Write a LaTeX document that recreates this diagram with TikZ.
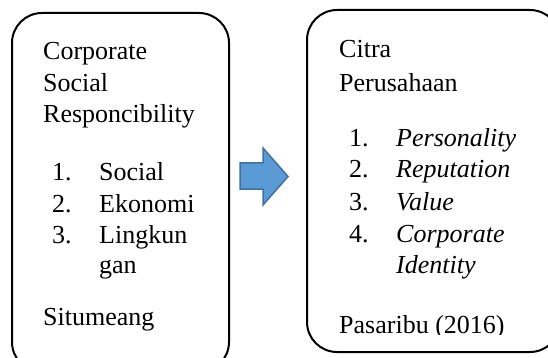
\documentclass[tikz,border=0pt]{standalone}
\usepackage{fontspec}
\setmainfont{Liberation Serif}
\begin{document}
\begin{tikzpicture}[x=1pt,y=-1pt,
  box/.style={draw=black,line width=2pt,rounded corners=30pt},
  txt/.style={anchor=base west,inner sep=0pt,font=\fontsize{26}{31}\selectfont},
  itm/.style={txt,font=\fontsize{26}{31}\selectfont\itshape},
  blockarrow/.style={fill=arrowfill,draw=arrowline,line width=1.5pt,line join=miter}]
\definecolor{arrowfill}{HTML}{5B9BD5}
\definecolor{arrowline}{HTML}{41719C}
\useasboundingbox (0,0) rectangle (548,358);
\begin{scope}
\clip (0,0) rectangle (548,358);
\draw[box] (12,13) rectangle (229,372);
\draw[box] (307,10) rectangle (560,352);
\end{scope}
% left box text
\node[txt] (l1) at (43,60) {Corporate};
\node[txt] (l2) at (43,92) {Social};
\node[txt] (l3) at (43,123) {Responcibility};
\node[txt] (n1) at (52,180) {1.};
\node[txt] (i1) at (99,180) {Social};
\node[txt] (n2) at (52,212) {2.};
\node[txt] (i2) at (99,212) {Ekonomi};
\node[txt] (n3) at (52,243) {3.};
\node[txt] (i3) at (99,243) {Lingkun};
\node[txt] (i3b) at (99,273) {gan};
\node[txt] (src1) at (43,325) {Situmeang};
% right box text
\node[txt] (r1) at (339,58) {Citra};
\node[txt] (r2) at (339,92) {Perusahaan};
\node[txt] (m1) at (349,147) {1.};
\node[itm] (j1) at (396,147) {Personality};
\node[txt] (m2) at (349,178) {2.};
\node[itm] (j2) at (396,178) {Reputation};
\node[txt] (m3) at (349,210) {3.};
\node[itm] (j3) at (396,210) {Value};
\node[txt] (m4) at (349,242) {4.};
\node[itm] (j4) at (396,242) {Corporate};
\node[itm] (j4b) at (396,273) {Identity};
\begin{scope}
\clip (300,0) rectangle (548,334);
\node[txt] (src2) at (339,333) {Pasaribu (2016)};
\end{scope}
% block arrow
\coordinate (a0) at (240,163);
\draw[blockarrow] (a0) -- (263,163) -- (263,148) -- (288,176.5) -- (263,205) -- (263,189) -- (240,189) -- cycle;
\end{tikzpicture}
\end{document}
